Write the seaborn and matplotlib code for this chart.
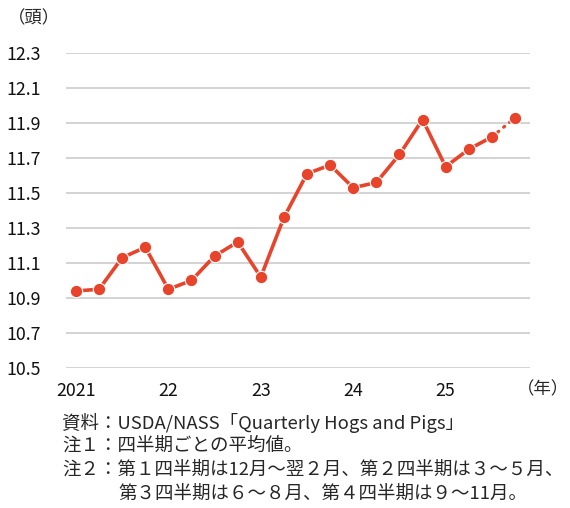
import numpy as np
import pandas as pd
import seaborn as sns
import matplotlib.pyplot as plt

# quarterly averages, 2021 Q1 .. 2025 Q4 (last one is a forecast)
quarters = list(range(20))
hogs = [10.94, 10.95, 11.13, 11.19, 10.95, 11.00, 11.14, 11.22, 11.02, 11.36,
        11.61, 11.66, 11.53, 11.56, 11.72, 11.92, 11.65, 11.75, 11.82, 11.93]
year_ticks = [0, 4, 8, 12, 16]
year_labels = ['2021', '22', '23', '24', '25']
y_ticks = [10.5, 10.7, 10.9, 11.1, 11.3, 11.5, 11.7, 11.9, 12.1, 12.3]

notes = ['資料：USDA/NASS「Quarterly Hogs and Pigs」',
         '注１：四半期ごとの平均値。',
         '注２：第１四半期は12月～翌２月、第２四半期は３～５月、',
         '第３四半期は６～８月、第４四半期は９～11月。']

df = pd.DataFrame({'q': quarters, 'v': hogs})
solid = df.iloc[:19]
dotted = df.iloc[18:]

sns.set_style('white')
plt.rcParams['font.family'] = ['Noto Sans CJK JP', 'DejaVu Sans']

red = '#e8432b'
fig = plt.figure(figsize=(5.7, 5.08), dpi=100)
ax = fig.add_axes([66/570, 140/508, 464/570, 315/508])

sns.lineplot(data=dotted, x='q', y='v', ax=ax, color=red, lw=2.3,
             linestyle=(0, (0.4, 2.0)), dash_capstyle='round')
sns.lineplot(data=solid, x='q', y='v', ax=ax, color=red, lw=2.6)
sns.scatterplot(data=df, x='q', y='v', ax=ax, color=red, s=80,
                edgecolor='white', linewidth=0.8, zorder=5, clip_on=False)

ax.set_xlim(-0.43, 19.65)
ax.set_ylim(10.5, 12.3)
ax.set_yticks(y_ticks)
ax.set_yticklabels([f'{t:.1f}' for t in y_ticks], fontsize=12.8)
ax.set_xticks(year_ticks)
ax.set_xticklabels(year_labels, fontsize=12.8)
ax.tick_params(axis='y', length=0, pad=18, labelcolor='#111111')
ax.tick_params(axis='x', length=0, pad=10, labelcolor='#111111')
ax.grid(axis='y', color='#c8c8c8', lw=1.1)
ax.set_axisbelow(True)
for s in ax.spines.values():
    s.set_visible(False)
ax.set_xlabel('')
ax.set_ylabel('')

fig.text(8/570, 1 - 18/508, '（頭）', fontsize=12.5, va='center', ha='left')
fig.text(569/570, 1 - 389/508, '（年）', fontsize=12.5, va='center', ha='right')

ys = [423, 446, 470, 494]
xs = [62, 62, 62, 118]
for t, x, y in zip(notes, xs, ys):
    fig.text(x/570, 1 - y/508, t, fontsize=13.3, va='center', ha='left')

fig.savefig('out.png', dpi=100)
